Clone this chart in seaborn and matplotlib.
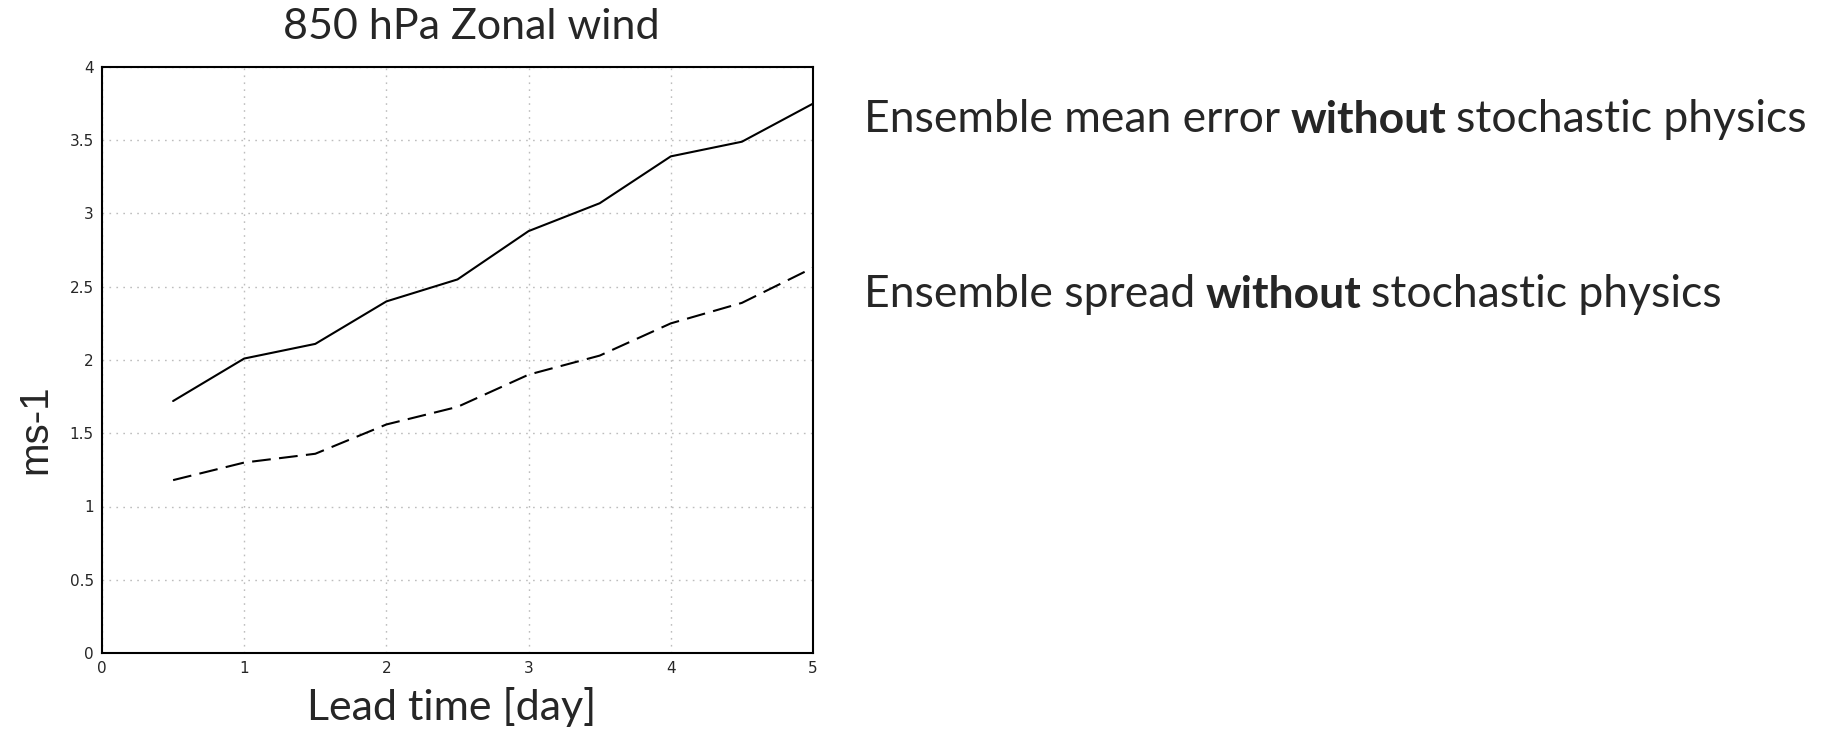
import matplotlib
matplotlib.use("Agg")
import matplotlib.pyplot as plt
import seaborn as sns
import pandas as pd

# Lead time in days and ensemble verification statistics (m/s)
lead_time = [0.5, 1.0, 1.5, 2.0, 2.5, 3.0, 3.5, 4.0, 4.5, 5.0]
mean_error = [1.72, 2.01, 2.11, 2.40, 2.55, 2.88, 3.07, 3.39, 3.49, 3.75]
spread = [1.18, 1.30, 1.36, 1.56, 1.68, 1.90, 2.03, 2.25, 2.39, 2.63]

x_ticks = [0, 1, 2, 3, 4, 5]
x_tick_labels = ["0", "1", "2", "3", "4", "5"]
y_ticks = [0, 0.5, 1, 1.5, 2, 2.5, 3, 3.5, 4]
y_tick_labels = ["0", "0.5", "1", "1.5", "2", "2.5", "3", "3.5", "4"]

title = "850 hPa Zonal wind"
x_label = "Lead time [day]"
y_label = "ms-1"
series_names = ["Ensemble mean error", "Ensemble spread"]

sns.set_style("white")
plt.rcParams["font.family"] = ["Lato", "DejaVu Sans"]

df = pd.DataFrame({
    "lead": lead_time * 2,
    "value": mean_error + spread,
    "series": [series_names[0]] * len(lead_time) + [series_names[1]] * len(lead_time),
})

W, H = 1839, 737
fig = plt.figure(figsize=(W / 100, H / 100), dpi=100)
ax = fig.add_axes([102 / W, 1 - 653 / H, (813 - 102) / W, (653 - 67) / H])

sns.lineplot(
    data=df, x="lead", y="value", style="series",
    dashes={series_names[0]: "", series_names[1]: (9, 4)},
    color="black", linewidth=1.5, legend=False, ax=ax,
)

ax.set_xlim(0, 5)
ax.set_ylim(0, 4)
ax.set_xticks(x_ticks)
ax.set_xticklabels(x_tick_labels, family="DejaVu Sans", fontsize=11)
ax.set_yticks(y_ticks)
ax.set_yticklabels(y_tick_labels, family="DejaVu Sans", fontsize=11)
ax.tick_params(axis="both", direction="out", length=4, width=1.2, color="black", pad=2)

ax.grid(True, color="#bdbdbd", linewidth=1.0, linestyle=(0, (1.2, 3.8)))
for s in ax.spines.values():
    s.set_color("black")
    s.set_linewidth(1.5)

ax.set_xlabel("")
ax.set_ylabel("")
fig.text(471 / W, 1 - 39 / H, title, ha="center", va="baseline", fontsize=31)
fig.text(452 / W, 1 - 720 / H, x_label, ha="center", va="baseline", fontsize=31)
fig.text(35 / W, 1 - 429 / H, y_label, ha="center", va="center", rotation=90,
         family="Liberation Sans", fontsize=29)


# One description row: plain lead words, bold key word, plain tail
def place_row(y_px, lead_words):
    a = fig.text(864 / W, 1 - y_px / H, lead_words, ha="left", va="baseline", fontsize=32)
    b = ax.annotate("without", xy=(1, 0), xycoords=a, xytext=(10, 0), textcoords="offset pixels",
                    ha="left", va="bottom", fontsize=32, fontweight="bold", annotation_clip=False)
    ax.annotate("stochastic physics", xy=(1, 0), xycoords=b, xytext=(10, 0), textcoords="offset pixels",
                ha="left", va="bottom", fontsize=32, annotation_clip=False)


place_row(132, series_names[0])
place_row(307, series_names[1])

fig.savefig("out.png", dpi=100)
